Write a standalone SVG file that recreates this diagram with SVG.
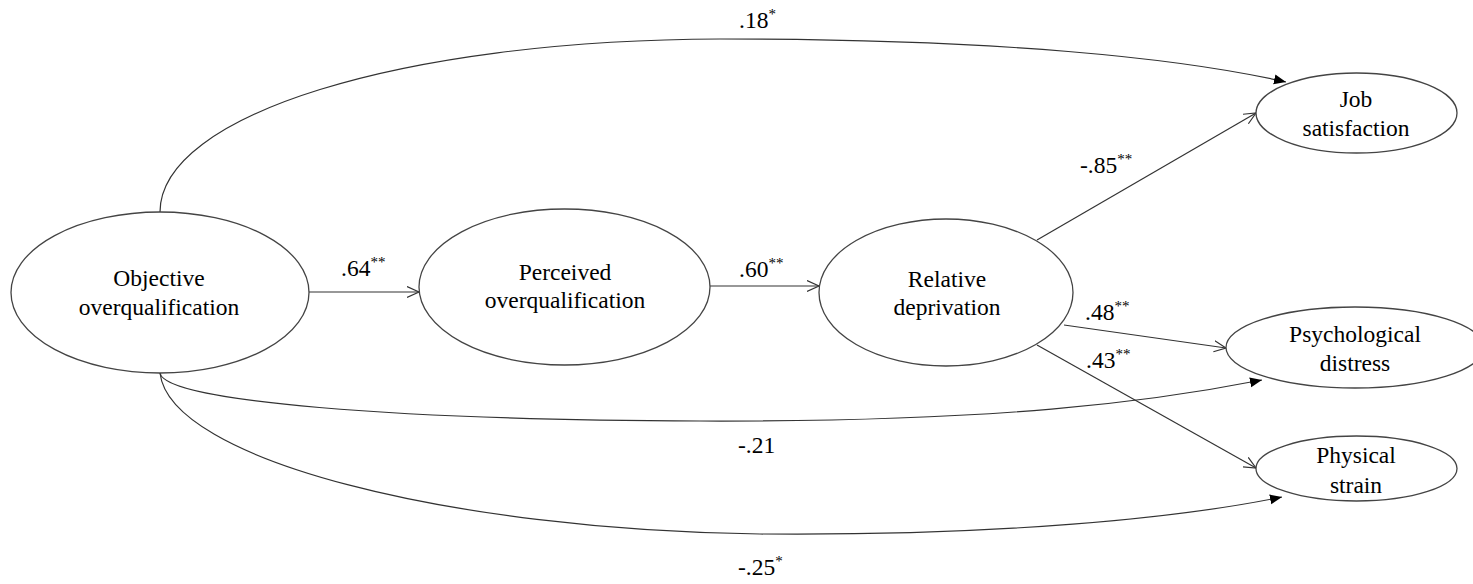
<svg xmlns="http://www.w3.org/2000/svg" width="1473" height="584" viewBox="0 0 1473 584">
<style>
text{font-family:'Liberation Serif','Times New Roman',serif;fill:#000}
.node ellipse{fill:#fff;stroke:#444;stroke-width:1.3}
.node text{font-size:23.5px;text-anchor:middle}
.lbl{font-size:23.5px}
.sup{font-size:15px}
.edge{fill:none;stroke:#333;stroke-width:1.2}
.open{marker-end:url(#openArrow)}
.solid{marker-end:url(#solidArrow)}
</style>
<defs>
<marker id="openArrow" markerUnits="userSpaceOnUse" markerWidth="14" markerHeight="14" refX="12" refY="6" orient="auto" viewBox="0 0 14 14">
<path d="M0,0.5 L12,6 L0,11.5" fill="none" stroke="#333" stroke-width="1.2"/>
</marker>
<marker id="solidArrow" markerUnits="userSpaceOnUse" markerWidth="14" markerHeight="12" refX="12" refY="5" orient="auto" viewBox="0 0 14 12">
<path d="M0,0 L12,5 L0,10 Z" fill="#000"/>
</marker>
</defs>
<rect width="1473" height="584" fill="#fff"/>
<g id="connectors">
<path class="edge solid" d="M160,212 C160,115 400,40 720,39 C1000,39 1180,58 1286,82"/>
<path class="edge solid" d="M160,373 C165,402 400,420 700,421 C1000,422 1150,402 1262,380"/>
<path class="edge solid" d="M160,373 C170,460 450,530 760,534 C1000,536 1180,518 1282,497"/>
<path class="edge open" d="M309,292 L419,292"/>
<path class="edge open" d="M710,286 L819,286"/>
<path class="edge open" d="M1037,240 L1256,113"/>
<path class="edge open" d="M1064,325 L1226,348"/>
<path class="edge open" d="M1037,345 L1256,468"/>
</g>
<g id="labels">
<text class="lbl" x="341" y="276">.64<tspan class="sup" dy="-9">**</tspan></text>
<text class="lbl" x="739" y="277">.60<tspan class="sup" dy="-9">**</tspan></text>
<text class="lbl" x="1080" y="173">-.85<tspan class="sup" dy="-9">**</tspan></text>
<text class="lbl" x="1085" y="320">.48<tspan class="sup" dy="-9">**</tspan></text>
<text class="lbl" x="1086" y="368">.43<tspan class="sup" dy="-9">**</tspan></text>
<text class="lbl" x="739" y="28">.18<tspan class="sup" dy="-9">*</tspan></text>
<text class="lbl" x="738" y="453">-.21</text>
<text class="lbl" x="738" y="575">-.25<tspan class="sup" dy="-9">*</tspan></text>
</g>
<g id="node-objective" class="node">
<ellipse cx="160" cy="292.5" rx="149" ry="80.5"/>
<text x="159" y="286">Objective</text>
<text x="159" y="315">overqualification</text>
</g>
<g id="node-perceived" class="node">
<ellipse cx="564.5" cy="287" rx="145.5" ry="78"/>
<text x="565" y="280">Perceived</text>
<text x="565" y="308">overqualification</text>
</g>
<g id="node-relative" class="node">
<ellipse cx="946" cy="292.5" rx="127" ry="73.5"/>
<text x="947" y="287">Relative</text>
<text x="947" y="315">deprivation</text>
</g>
<g id="node-job" class="node">
<ellipse cx="1356.5" cy="113" rx="100.5" ry="40"/>
<text x="1356" y="107">Job</text>
<text x="1356" y="136">satisfaction</text>
</g>
<g id="node-psych" class="node">
<ellipse cx="1355" cy="347.5" rx="129" ry="40.5"/>
<text x="1355" y="342">Psychological</text>
<text x="1355" y="371">distress</text>
</g>
<g id="node-physical" class="node">
<ellipse cx="1356.5" cy="468.5" rx="100.5" ry="32.5"/>
<text x="1356" y="463">Physical</text>
<text x="1356" y="493">strain</text>
</g>
</svg>
